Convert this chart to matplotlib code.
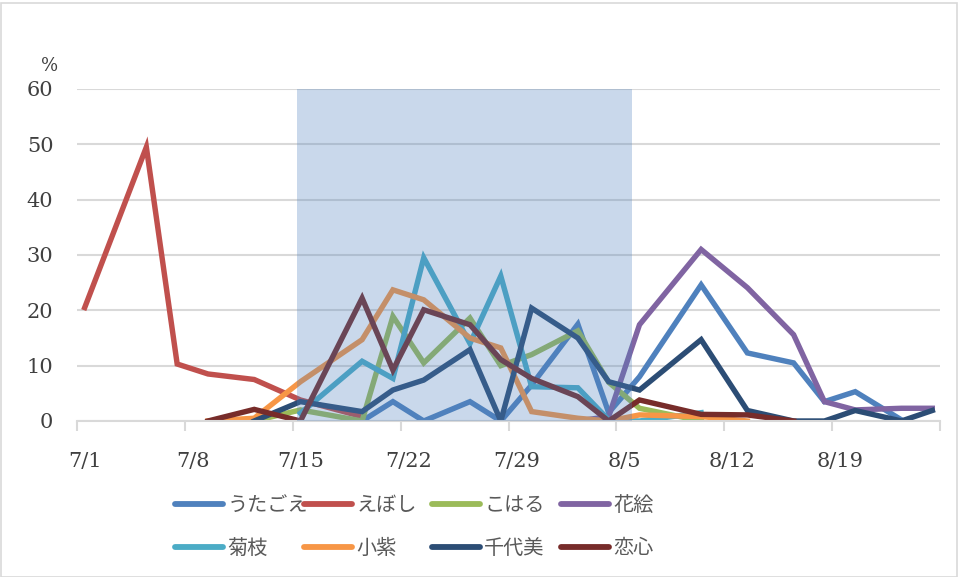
import numpy as np
import matplotlib
matplotlib.use("Agg")
import matplotlib.pyplot as plt
from matplotlib.patches import Rectangle

# ---------------- data ----------------
dates = ["7/1", "7/5", "7/7", "7/9", "7/12", "7/15", "7/19", "7/21", "7/23", "7/26",
         "7/28", "7/30", "8/2", "8/4", "8/6", "8/10", "8/13", "8/16", "8/18", "8/20",
         "8/23", "8/25"]
nan = np.nan
utagoe   = [nan, nan, nan, nan, nan, nan, 0.0, 3.5, 0.0, 3.5, 0.0, 6.5, 17.5, 1.5, 8.0, 24.6, 12.3, 10.5, 3.5, 5.3, 0.2, nan]
eboshi   = [20.5, 49.5, 10.3, 8.5, 7.5, 3.8, 0.8, nan, nan, nan, nan, nan, nan, nan, nan, nan, nan, nan, nan, nan, nan, nan]
koharu   = [nan, nan, nan, nan, 0.0, 2.0, 0.0, 18.9, 10.5, 18.6, 10.0, 12.0, 16.3, 7.0, 2.3, 0.0, nan, nan, nan, nan, nan, nan]
hanae    = [nan, nan, nan, nan, nan, nan, nan, nan, nan, nan, nan, nan, 0.0, 0.8, 17.4, 31.0, 24.1, 15.6, 3.5, 2.0, 2.3, 2.3]
kikue    = [nan, nan, nan, nan, nan, 1.4, 10.8, 7.7, 29.5, 14.0, 26.2, 6.2, 6.0, 0.2, 0.0, 1.5, nan, nan, nan, nan, nan, nan]
komurasaki = [nan, nan, nan, 0.0, 0.5, 7.1, 14.7, 23.7, 21.9, 15.0, 13.2, 1.7, 0.5, 0.0, 1.1, 0.8, 0.0, nan, nan, nan, nan, nan]
chiyomi  = [nan, nan, nan, nan, 0.0, 3.5, 1.7, 5.6, 7.4, 12.9, 0.0, 20.4, 15.0, 7.1, 5.6, 14.7, 1.9, 0.0, 0.0, 1.9, 0.0, 1.9]
renshin  = [nan, nan, nan, 0.0, 2.1, 0.0, 22.2, 9.2, 20.1, 17.4, 11.1, 7.7, 4.4, 0.0, 3.8, 1.2, 1.1, 0.0, nan, nan, nan, nan]

series_names = ["うたごえ", "えぼし", "こはる", "花絵", "菊枝", "小紫", "千代美", "恋心"]
series_values = [utagoe, eboshi, koharu, hanae, kikue, komurasaki, chiyomi, renshin]
series_colors = ["#4F81BD", "#C0504D", "#9BBB59", "#8064A2", "#4BACC6", "#F79646", "#2C4D75", "#772C2A"]

tick_labels = ["7/1", "7/8", "7/15", "7/22", "7/29", "8/5", "8/12", "8/19"]
axis_end = "8/26"
period_start, period_end = 14.25, 36.0   # shaded period (days from 7/1)
y_ticks = [0, 10, 20, 30, 40, 50, 60]

# ---------------- helpers ----------------
days_in_month = {7: 0, 8: 31}
def day_index(s):
    m, d = map(int, s.split("/"))
    return days_in_month[m] + d - 1

x = np.array([day_index(d) for d in dates]) + 0.5  # points centred in day bins

# ---------------- figure ----------------
W, H = 959, 577
fig = plt.figure(figsize=(W / 100, H / 100), dpi=100)
ax = fig.add_axes([77 / W, 1 - 421 / H, (940 - 77) / W, (421 - 89) / H])

for name, vals, col in zip(series_names, series_values, series_colors):
    ax.plot(x, vals, color=col, lw=3.9, label=name, zorder=2, solid_joinstyle="miter")

ax.axvspan(period_start, period_end, color="#4F81BD", alpha=0.3, lw=0, zorder=3)

ax.set_ylim(0, 60)
ax.set_xlim(0, day_index(axis_end))
ax.set_yticks(y_ticks)
ax.yaxis.grid(True, color="#D9D9D9", lw=1.5, zorder=0)
ax.set_axisbelow(True)
ax.tick_params(axis="y", length=0, pad=17, labelsize=15, labelcolor="#404040")
for lab in ax.get_yticklabels():
    lab.set_family("DejaVu Serif")

tick_pos = np.array([day_index(t) for t in tick_labels])
ax.set_xticks(tick_pos + 0.5)
ax.set_xticklabels(tick_labels, family="DejaVu Serif", fontsize=15, color="#404040")
ax.tick_params(axis="x", which="major", length=0, pad=22)
ax.set_xticks(list(tick_pos) + [day_index(axis_end)], minor=True)
ax.tick_params(axis="x", which="minor", length=7, width=1.5, color="#D9D9D9")

for s in ["left", "right", "top"]:
    ax.spines[s].set_visible(False)
ax.spines["bottom"].set_color("#D9D9D9")
ax.spines["bottom"].set_linewidth(1.5)

fig.text(50 / W, 1 - 66 / H, "%", ha="center", va="center", fontsize=13,
         family="DejaVu Serif", color="#404040")

# legend: four columns of two rows each
handles = ax.get_lines()
col_x = [175, 304, 432, 561]
for k in range(4):
    leg = fig.legend(handles=[handles[k], handles[k + 4]],
                     labels=[series_names[k], series_names[k + 4]],
                     loc="center left", bbox_to_anchor=(col_x[k] / W, 1 - 527 / H),
                     frameon=False, borderpad=0, borderaxespad=0,
                     handlelength=2.4, handletextpad=0.2, labelspacing=1.12,
                     prop={"family": ["Noto Sans CJK JP", "DejaVu Sans"], "size": 14.5})
    for t in leg.get_texts():
        t.set_color("#595959")
    for l in leg.get_lines():
        l.set_linewidth(4.2)
        l.set_solid_capstyle("round")

fig.patches.append(Rectangle((0.5 / W, 0.5 / H), 1 - 3 / W, 1 - 3 / H, transform=fig.transFigure,
                             fill=False, edgecolor="#D9D9D9", lw=1.2))

fig.savefig("out.png", dpi=100)
